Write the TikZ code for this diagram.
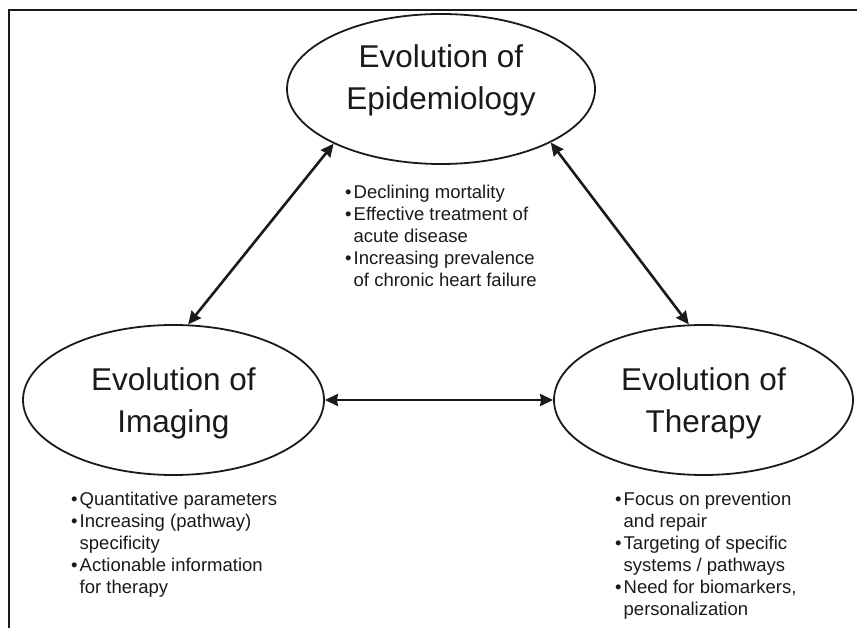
\documentclass[tikz,border=0pt]{standalone}
\usepackage{fontspec}
\setmainfont{Liberation Sans}
\usetikzlibrary{shapes.geometric,arrows.meta}
\definecolor{ink}{HTML}{1A1A1A}
\tikzset{
  bubble/.style={ellipse, draw=ink, line width=1.8pt, inner sep=0pt,
    minimum width=300pt, minimum height=150pt},
  title/.style={align=center, text=ink, inner sep=0pt,
    font=\fontsize{31.5}{42}\selectfont},
  blist/.style={anchor=north west, inner sep=0pt, align=left, text=ink,
    font=\fontsize{18.5}{22}\selectfont},
  link/.style={ink, line width=2.6pt,
    {Stealth[length=13pt,width=12pt,inset=1pt]}-{Stealth[length=13pt,width=12pt,inset=1pt]}},
}
\newcommand{\bul}{\makebox[8.5pt][l]{•}}
\newcommand{\ind}{\hspace*{8.5pt}}
\begin{document}
\begin{tikzpicture}[x=1pt,y=-1pt]
\useasboundingbox (0,0) rectangle (857,628);
\draw[ink, line width=2pt] (9,628) -- (9,10) -- (857,10);

\node[bubble, minimum width=308pt, minimum height=150pt] (epi) at (441,89) {};
\node[bubble, minimum width=301pt, minimum height=150pt] (img) at (173.5,400) {};
\node[bubble, minimum width=299pt, minimum height=150pt] (ther) at (703.5,400) {};

\node[title] (epit) at (441,80) {Evolution of\\Epidemiology};
\node[title] (imgt) at (173.5,403) {Evolution of\\Imaging};
\node[title] (thert) at (703.5,403) {Evolution of\\Therapy};

\draw[link] (epi.207) -- (img.79);
\draw[link] (epi.334) -- (ther.101);
\draw[link] (img.east) -- (ther.west);

\node[blist] (epilist) at (345,185) {\bul Declining mortality\\
\bul Effective treatment of\\
\ind acute disease\\
\bul Increasing prevalence\\
\ind of chronic heart failure};

\node[blist] (imglist) at (71,492) {\bul Quantitative parameters\\
\bul Increasing (pathway)\\
\ind specificity\\
\bul Actionable information\\
\ind for therapy};

\node[blist] (therlist) at (615,492) {\bul Focus on prevention\\
\ind and repair\\
\bul Targeting of specific\\
\ind systems / pathways\\
\bul Need for biomarkers,\\
\ind personalization};
\end{tikzpicture}
\end{document}
